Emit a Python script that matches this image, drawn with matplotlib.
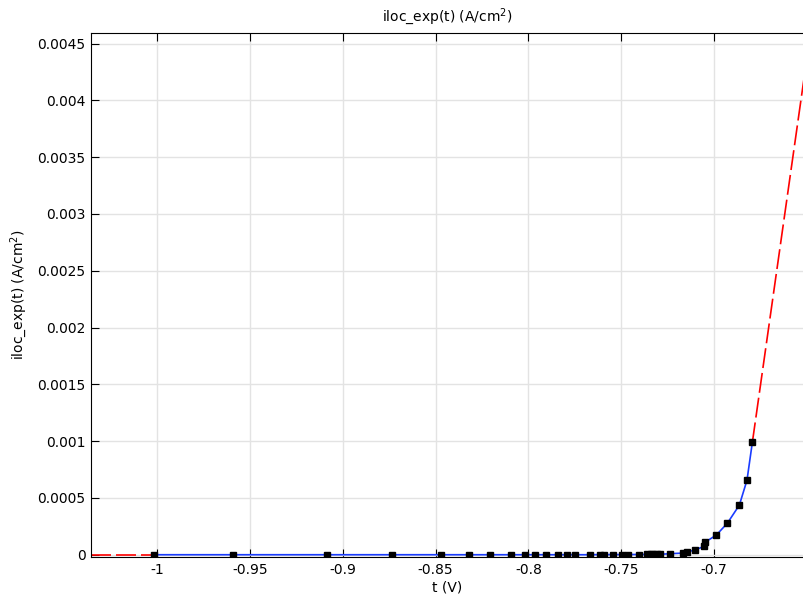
import matplotlib.pyplot as plt
import numpy as np

# potentiel (V) et courant local (A/cm^2)
t = [-1.0018, -0.9590, -0.9083, -0.8733, -0.8473, -0.8321, -0.8204, -0.8091,
     -0.8020, -0.7962, -0.7903, -0.7842, -0.7792, -0.7747, -0.7667, -0.7613,
     -0.7595, -0.7545, -0.7496, -0.7461, -0.7407, -0.7360, -0.7340, -0.7330,
     -0.7310, -0.7290, -0.7235, -0.7165, -0.7147, -0.7104, -0.7055, -0.7047,
     -0.6988, -0.6928, -0.6864, -0.6823, -0.6794]
iloc = [0.0, 0.0, 0.0, 0.0, 0.0, 0.0, 0.0, 0.0,
        0.0, 0.0, 0.0, 0.0, 0.0, 0.0, 0.0, 0.000001,
        0.000001, 0.000001, 0.000001, 0.000002, 0.000002, 0.000003, 0.000003, 0.000003,
        0.000004, 0.000004, 0.000009, 0.000015, 0.000024, 0.000041, 0.000073, 0.000112,
        0.000173, 0.000279, 0.000437, 0.000656, 0.000990]

xmin, xmax = -1.0355, -0.6516
ymin, ymax = -0.00002, 0.004593

t = np.array(t)
iloc = np.array(iloc)

fig = plt.figure(figsize=(8.04, 5.95), dpi=100)
ax = fig.add_axes([91/804, 38/595, (804-91)/804, (557-33)/595])

# extrapolation (rouge pointille)
slope = (iloc[-1] - iloc[-2]) / (t[-1] - t[-2])
ax.plot([xmin, t[0]], [iloc[0], iloc[0]], color='#ff0000', lw=1.2, dashes=(12, 3))
ax.plot([t[-1], xmax], [iloc[-1], iloc[-1] + slope * (xmax - t[-1])],
        color='#ff0000', lw=1.2, dashes=(12, 3))

ax.plot(t, iloc, color='#1a3cff', lw=1.2)
ax.plot(t, iloc, 's', color='black', ms=4.5, ls='none')

ax.set_xlim(xmin, xmax)
ax.set_ylim(ymin, ymax)
ax.set_xticks([-1, -0.95, -0.9, -0.85, -0.8, -0.75, -0.7])
ax.set_xticklabels(['-1', '-0.95', '-0.9', '-0.85', '-0.8', '-0.75', '-0.7'])
yt = [0, 0.0005, 0.001, 0.0015, 0.002, 0.0025, 0.003, 0.0035, 0.004, 0.0045]
ax.set_yticks(yt)
ax.set_yticklabels(['0', '0.0005', '0.001', '0.0015', '0.002', '0.0025', '0.003',
                    '0.0035', '0.004', '0.0045'])
ax.grid(True, color='#e3e3e3', lw=1)
ax.set_axisbelow(True)
ax.tick_params(direction='in', top=True, length=6, labelsize=10, pad=4)
ax.spines['right'].set_visible(False)

ax.set_xlabel('t (V)', fontsize=10, labelpad=3)
ax.set_ylabel('iloc_exp(t) (A/cm$^2$)', fontsize=10, labelpad=6)
fig.text(0.556, 0.972, 'iloc_exp(t) (A/cm$^2$)', ha='center', va='center', fontsize=10)

fig.savefig('out.png', dpi=100)
